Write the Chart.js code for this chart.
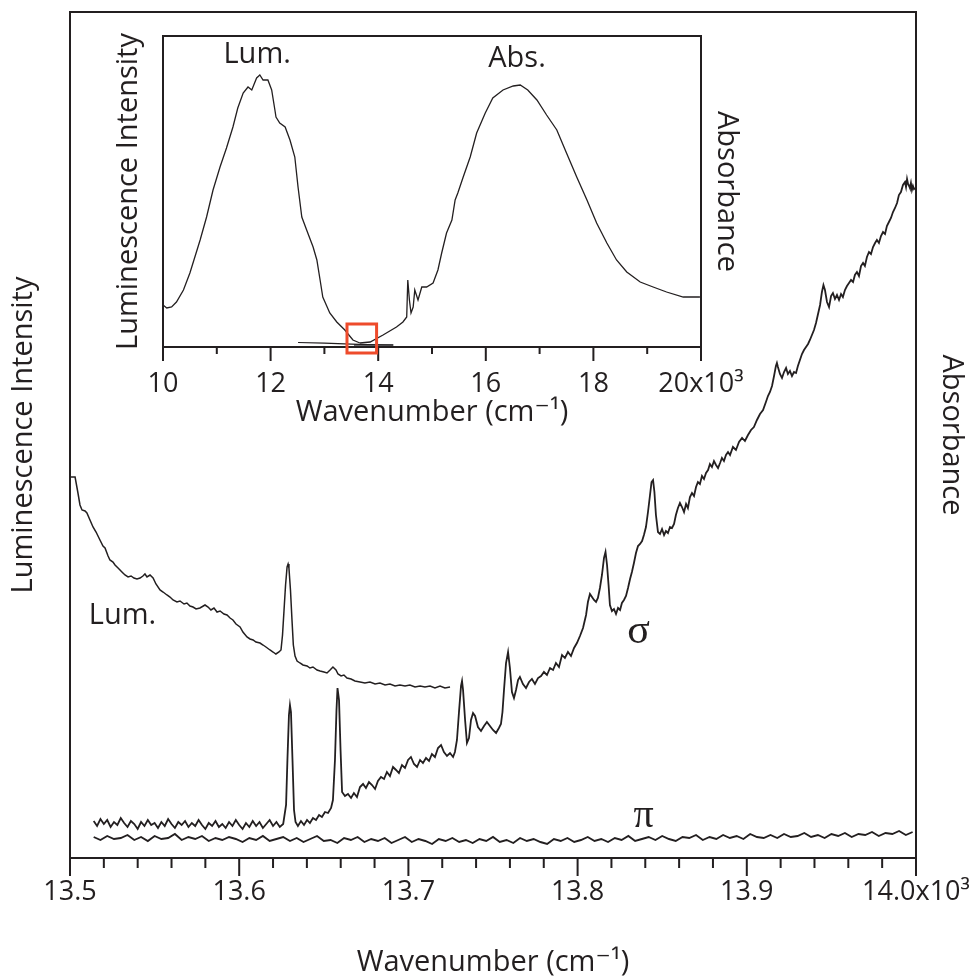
<!DOCTYPE html>
<html>
<head>
<meta charset="utf-8">
<title>Luminescence and absorbance spectra</title>
<script src="https://cdn.jsdelivr.net/npm/chart.js@4/dist/chart.umd.min.js"></script>
<style>
  html, body { margin: 0; padding: 0; background: #fff; }
  #wrap { position: relative; width: 969px; height: 980px; overflow: hidden; }
  #mainChart { position: absolute; left: 0; top: 0; }
  #insetChart { position: absolute; left: 100px; top: 0; }
</style>
</head>
<body>
<div id="wrap">
  <canvas id="mainChart" width="969" height="980"></canvas>
  <canvas id="insetChart" width="660" height="450"></canvas>
</div>
<script>
// ---- main panel: wavenumber (cm-1) vs. intensity (arbitrary units) ----
const mainMajorTicks = [13500, 13600, 13700, 13800, 13900, 14000];
const mainTickLabels = ['13.5', '13.6', '13.7', '13.8', '13.9', '14.0x10³'];

// luminescence trace
const lumTrace = [
  [13500.6,381],[13503.0,381],[13504.7,365],[13505.9,353],[13507.1,348],[13508.9,347],[13510.0,345],[13511.8,338],
  [13513.6,331],[13515.4,326],[13517.7,318],[13519.5,312],[13520.7,310],[13522.5,302],[13523.6,298],[13525.4,296],
  [13526.6,293],[13528.4,290],[13530.7,286],[13532.5,283],[13534.3,281],[13536.1,282],[13537.8,280],[13539.6,279],
  [13541.4,280],[13543.1,282],[13544.3,284],[13545.5,281],[13547.3,283],[13549.1,280],[13550.8,274],[13553.2,268],
  [13555.0,266],[13557.3,263],[13559.1,261],[13560.9,258],[13563.2,256],[13565.0,257],[13567.4,254],[13569.1,255],
  [13570.9,252],[13572.7,251],[13574.5,249],[13576.8,250],[13579.8,253],[13581.6,251],[13583.3,248],[13585.1,250],
  [13586.9,246],[13588.7,247],[13591.0,244],[13592.8,243],[13594.6,240],[13596.3,238],[13598.1,234],[13600.5,231],
  [13602.2,226],[13604.6,221],[13606.4,219],[13608.2,218],[13609.9,216],[13612.3,215],[13614.1,213],[13615.8,211],
  [13618.2,208],[13620.0,206],[13621.7,204],[13623.5,206],[13624.7,208],[13625.6,223],[13626.5,248],[13627.4,273],
  [13628.3,291],[13628.9,294],[13629.4,290],[13630.3,268],[13631.2,238],[13632.0,213],[13633.0,202],[13634.2,197],
  [13635.9,195],[13637.7,193],[13640.1,192],[13641.8,190],[13643.6,191],[13646.0,188],[13647.8,187],[13650.1,186],
  [13651.9,185],[13653.7,188],[13655.4,191],[13657.2,188],[13658.4,184],[13660.2,182],[13661.9,183],[13663.7,180],
  [13666.1,179],[13668.4,177],[13671.4,176],[13674.3,175],[13677.3,176],[13680.3,174],[13683.2,175],[13686.2,173],
  [13689.1,174],[13692.1,172],[13695.0,173],[13698.0,172],[13700.9,173],[13703.9,171],[13706.9,172],[13709.8,171],
  [13712.8,172],[13715.7,170],[13718.7,172],[13721.6,170],[13724.6,171]
];

// sigma-polarised absorbance
const sigmaTrace = [
  [13514,37],[13516,32],[13518,39],[13520,34],[13522,38],[13524,31],[13526,36],[13528,33],[13530,40],[13532,35],
  [13534,31],[13536,37],[13538,34],[13540,29],[13542,36],[13544,32],[13546,38],[13548,33],[13550,35],[13552,30],
  [13554,36],[13556,32],[13558,39],[13560,34],[13562,30],[13564,36],[13566,33],[13568,37],[13570,31],[13572,35],
  [13574,32],[13576,38],[13578,33],[13580,29],[13582,35],[13584,32],[13586,37],[13588,31],[13590,34],[13592,30],
  [13594,36],[13596,32],[13598,38],[13600,33],[13602,29],[13604,35],[13606,31],[13608,37],[13610,32],[13612,36],
  [13614,30],[13616,34],[13618,38],[13620,32],[13622,36],[13624,31],[13626,34],
  [13627.7,53],[13628.5,98],[13629.4,143],[13630.0,153],[13630.6,146],[13631.5,98],[13632.4,48],[13633.3,36],
  [13634.7,32],[13636.5,37],[13638.3,33],[13640.1,38],[13641.8,35],[13643.6,40],[13645.4,38],[13647.2,43],
  [13648.9,41],[13650.7,46],[13652.5,45],[13654.3,50],[13655.4,58],[13656.6,98],[13657.5,148],[13658.1,170],
  [13659.0,158],[13659.9,108],[13660.8,66],[13662.5,62],[13664.3,64],[13666.1,60],[13667.8,65],[13669.6,61],
  [13671.4,71],[13673.2,74],[13674.9,70],[13676.7,76],[13678.5,73],[13680.3,69],[13682.0,77],[13683.8,81],
  [13685.6,79],[13687.3,86],[13689.1,82],[13690.9,91],[13692.7,88],[13694.4,85],[13696.2,93],[13698.0,90],
  [13699.8,98],[13701.5,101],[13703.3,94],[13705.1,91],[13706.9,98],[13708.6,95],[13710.4,100],[13712.2,97],
  [13713.9,104],[13715.7,101],[13717.5,110],[13719.3,113],[13721.0,106],[13722.8,102],[13724.6,105],[13726.4,101],
  [13727.5,106],[13728.7,118],[13729.9,146],[13731.1,172],[13731.7,177],[13732.3,168],[13733.5,138],[13734.6,115],
  [13735.8,120],[13737.0,138],[13738.2,145],[13739.4,142],[13741.1,131],[13742.9,127],[13744.7,132],[13746.4,136],
  [13748.2,132],[13750.0,128],[13751.8,125],[13753.5,130],[13754.7,134],[13755.6,146],[13756.5,168],[13757.7,195],
  [13758.9,206],[13760.0,190],[13761.2,166],[13762.4,160],[13763.6,168],[13764.8,178],[13765.9,181],[13767.7,174],
  [13769.5,170],[13771.3,176],[13773.0,179],[13774.8,174],[13776.6,180],[13778.4,182],[13780.1,186],[13781.9,183],
  [13783.7,190],[13785.5,188],[13787.2,195],[13789.0,191],[13790.8,203],[13792.5,200],[13794.3,206],[13796.1,202],
  [13797.9,210],[13799.6,215],[13801.4,222],[13803.2,230],[13805.0,243],[13806.1,256],[13807.3,264],[13808.5,261],
  [13809.7,258],[13810.9,256],[13812.0,260],[13813.2,270],[13814.4,283],[13815.6,300],[13816.5,306],[13817.4,293],
  [13818.3,273],[13819.1,253],[13820.3,247],[13821.5,249],[13822.7,244],[13823.9,250],[13825.1,248],[13826.2,255],
  [13827.4,258],[13828.6,262],[13829.8,270],[13831.0,279],[13832.1,286],[13833.3,295],[13834.5,305],[13835.7,312],
  [13836.9,314],[13838.1,317],[13839.2,323],[13840.4,331],[13841.6,346],[13842.8,363],[13843.7,376],[13844.6,378],
  [13845.4,366],[13846.3,343],[13847.5,326],[13848.7,324],[13849.9,329],[13851.1,323],[13852.2,327],[13853.4,325],
  [13854.6,331],[13855.8,330],[13857.0,334],[13858.1,343],[13859.3,350],[13860.5,355],[13861.7,351],[13862.9,346],
  [13864.1,354],[13865.2,350],[13866.4,361],[13867.6,365],[13868.8,362],[13870.0,371],[13871.1,376],[13872.3,374],
  [13873.5,382],[13874.7,379],[13875.9,385],[13877.1,388],[13878.2,394],[13879.4,391],[13880.6,397],[13881.8,393],
  [13883.0,390],[13884.2,395],[13885.3,400],[13886.5,397],[13887.7,403],[13888.9,406],[13890.1,403],[13891.8,411],
  [13893.6,408],[13895.4,416],[13897.2,420],[13898.9,417],[13900.7,423],[13902.5,428],[13904.2,431],[13906.0,438],
  [13907.8,444],[13909.6,448],[13911.3,456],[13912.5,462],[13913.7,466],[13914.9,472],[13916.1,482],[13917.2,492],
  [13917.8,495],[13918.4,491],[13919.6,484],[13920.8,480],[13922.0,486],[13923.2,490],[13924.3,484],[13925.5,487],
  [13926.7,482],[13927.9,486],[13929.1,485],[13930.2,492],[13931.4,498],[13932.6,504],[13933.8,508],[13935.0,511],
  [13936.2,514],[13937.3,518],[13938.5,523],[13939.7,528],[13940.9,535],[13942.1,544],[13943.3,553],[13944.4,566],
  [13945.3,573],[13946.2,568],[13947.4,556],[13948.6,551],[13949.8,562],[13950.9,565],[13952.1,559],[13953.3,563],
  [13954.5,558],[13955.7,564],[13956.8,561],[13958.0,568],[13959.2,572],[13960.4,575],[13961.6,578],[13962.8,576],
  [13963.9,583],[13965.1,586],[13966.3,582],[13967.5,592],[13968.7,595],[13969.8,592],[13971.0,601],[13972.2,606],
  [13973.4,604],[13974.6,611],[13975.8,615],[13976.9,618],[13978.1,615],[13979.3,622],[13980.5,626],[13981.7,624],
  [13982.8,632],[13984.0,636],[13985.2,640],[13986.4,646],[13987.6,650],[13988.8,655],[13989.9,663],[13991.1,666],
  [13992.3,673],[13993.5,676],[13994.1,671],[13994.7,679],[13995.3,674],[13995.9,672],[13996.4,670],[13997.0,675],
  [13997.6,668],[13998.2,672],[13998.8,669],[13999.4,670]
];

// pi-polarised absorbance
const piTrace = [
  [13514,21],[13518,18],[13522,22],[13526,19],[13530,20],[13534,23],[13538,18],[13542,21],[13546,17],[13550,22],
  [13554,19],[13558,20],[13562,24],[13566,18],[13570,21],[13574,19],[13578,22],[13582,17],[13586,20],[13590,18],
  [13594,21],[13598,19],[13602,16],[13606,20],[13610,18],[13614,22],[13618,17],[13622,19],[13626,21],[13630,17],
  [13634,20],[13638,16],[13642,19],[13646,22],[13650,17],[13654,18],[13658,15],[13662,20],[13666,18],[13670,21],
  [13674,16],[13678,19],[13682,17],[13686,20],[13690,15],[13694,18],[13698,21],[13702,16],[13706,19],[13710,17],
  [13714,14],[13718,19],[13722,17],[13726,20],[13730,16],[13734,18],[13738,15],[13742,19],[13746,17],[13750,21],
  [13754,16],[13758,18],[13762,15],[13766,20],[13770,17],[13774,19],[13778,16],[13782,14],[13786,19],[13790,17],
  [13794,20],[13798,16],[13802,18],[13806,21],[13810,17],[13814,19],[13818,16],[13822,20],[13826,18],[13830,22],
  [13834,17],[13838,19],[13842,21],[13846,18],[13850,22],[13854,19],[13858,17],[13862,21],[13866,20],[13870,23],
  [13874,18],[13878,21],[13882,19],[13886,23],[13890,20],[13894,22],[13898,19],[13902,24],[13906,21],[13910,20],
  [13914,23],[13918,20],[13922,24],[13926,21],[13930,22],[13934,25],[13938,21],[13942,23],[13946,20],[13950,24],
  [13954,22],[13958,25],[13962,21],[13966,24],[13970,23],[13974,26],[13978,22],[13982,25],[13986,24],[13990,27],
  [13994,23],[13998,26]
];

// ---- inset: wavenumber (10^3 cm-1) vs. intensity (arbitrary units) ----
const insetMajorTicks = [10, 12, 14, 16, 18, 20];
const insetTickLabels = ['10', '12', '14', '16', '18', '20x10³'];

const insetLum = [
  [10.00,42],[10.07,39],[10.16,40],[10.25,45],[10.38,57],[10.50,74],[10.65,100],[10.69,107],[10.81,130],
  [10.93,157],[11.06,180],[11.18,199],[11.30,220],[11.39,239],[11.49,254],[11.58,260],[11.65,257],[11.74,269],
  [11.80,272],[11.86,267],[11.95,267],[12.02,257],[12.08,237],[12.10,230],[12.17,224],[12.27,220],[12.36,207],
  [12.45,190],[12.51,160],[12.58,130],[12.67,117],[12.79,100],[12.86,87],[12.92,67],[12.97,50],[13.10,34],
  [13.23,25],[13.38,17],[13.53,7],[13.66,4]
];

const insetAbs = [
  [13.66,4],[13.85,5],[14.09,12],[14.34,20],[14.46,25],[14.53,30],[14.55,67],[14.58,47],[14.61,34],[14.65,40],
  [14.68,57],[14.74,47],[14.81,60],[14.90,60],[15.02,64],[15.11,77],[15.18,94],[15.27,114],[15.37,127],[15.43,147],
  [15.48,154],[15.58,170],[15.71,190],[15.83,214],[15.99,234],[16.13,249],[16.32,257],[16.51,261],[16.64,262],
  [16.78,257],[16.95,247],[17.13,232],[17.32,217],[17.50,194],[17.69,170],[17.88,147],[18.06,124],[18.25,104],
  [18.43,87],[18.62,75],[18.87,65],[19.11,60],[19.36,55],[19.67,50],[19.98,50]
];

// the high-resolution spectra squeezed into the inset's scale
const insetDetail = [[12.51,4.5],[13.0,3.8],[13.5,2.8],[13.8,2.3],[14.28,2.0]];
const insetDetailBand = [[13.55,1.5],[14.28,1.5]];

const ink = '#231f20';
const sans = "'Open Sans', 'DejaVu Sans', sans-serif";
const serif = "'Liberation Serif', 'DejaVu Serif', serif";
Chart.defaults.font.family = sans;
Chart.defaults.color = ink;

const toPoints = arr => arr.map(p => ({ x: p[0], y: p[1] }));

const line = (data, width, color) => ({
    data: toPoints(data),
    showLine: true,
    borderColor: color || ink,
    borderWidth: width,
    pointRadius: 0,
    tension: 0,
    fill: false
});

// draws the frame, major/minor ticks, curve notes and the zoom box
const frameTicks = {
    id: 'frameTicks',
    afterDraw(chart, args, opts) {
        const { ctx, chartArea: a, scales } = chart;
        const xs = scales.x, ys = scales.y;
        ctx.save();
        ctx.strokeStyle = ink;
        ctx.lineWidth = opts.frameWidth;
        ctx.strokeRect(a.left, a.top, a.right - a.left, a.bottom - a.top);

        ctx.lineWidth = opts.tickWidth;
        ctx.beginPath();
        xs.ticks.forEach(t => {
            const px = xs.getPixelForValue(t.value);
            const r = t.value / opts.majorStep;
            const len = Math.abs(r - Math.round(r)) < 1e-6 ? opts.major : opts.minor;
            ctx.moveTo(px, a.bottom);
            ctx.lineTo(px, a.bottom + len);
        });
        ctx.stroke();

        if (opts.box) {
            const b = opts.box;
            const x0 = xs.getPixelForValue(b.x[0]), x1 = xs.getPixelForValue(b.x[1]);
            const y0 = ys.getPixelForValue(b.y[0]), y1 = ys.getPixelForValue(b.y[1]);
            ctx.strokeStyle = b.color;
            ctx.lineWidth = b.width;
            ctx.strokeRect(x0, y0, x1 - x0, y1 - y0);
        }

        ctx.fillStyle = ink;
        ctx.textAlign = 'center';
        ctx.textBaseline = 'middle';
        (opts.notes || []).forEach(n => {
            ctx.font = n.font;
            ctx.fillText(n.text, xs.getPixelForValue(n.x), ys.getPixelForValue(n.y));
        });
        ctx.restore();
    }
};

const hiddenY = (position, text, width, pad) => ({
    position: position,
    min: 0,
    max: position === 'left' ? undefined : 1,
    ticks: { display: false },
    grid: { display: false, drawTicks: false },
    border: { display: false },
    title: { display: true, text: text, font: { size: 29 }, padding: { top: pad, bottom: 0 } },
    afterFit: s => { s.width = width; }
});

// fixed axis band; overflowing end labels are allowed to run off the canvas
const fixedX = height => s => {
    s.height = height;
    s.paddingLeft = 0;
    s.paddingRight = 0;
};

// Main chart
const mainY = hiddenY('left', 'Luminescence Intensity', 70, 6);
mainY.max = 846;
new Chart(document.getElementById('mainChart'), {
    type: 'scatter',
    data: {
        datasets: [
            line(lumTrace, 1.5),
            line(sigmaTrace, 1.8),
            line(piTrace, 1.9)
        ]
    },
    options: {
        responsive: false,
        animation: false,
        layout: { padding: { top: 12, left: 0, right: 0, bottom: 0 }, autoPadding: false },
        scales: {
            x: {
                type: 'linear',
                position: 'bottom',
                min: 13500,
                max: 14000,
                ticks: {
                    stepSize: 20,
                    autoSkip: false,
                    maxRotation: 0,
                    padding: 0,
                    font: { size: 27 },
                    callback: v => {
                        const i = mainMajorTicks.indexOf(Math.round(v));
                        return i >= 0 ? mainTickLabels[i] : '';
                    }
                },
                grid: { display: false, drawTicks: true, tickLength: 18 },
                border: { display: false },
                title: { display: true, text: 'Wavenumber (cm⁻¹)', font: { size: 29 }, padding: { top: 0, bottom: 0 } },
                afterFit: fixedX(122)
            },
            y: mainY,
            y2: hiddenY('right', 'Absorbance', 53, 0)
        },
        plugins: {
            legend: { display: false },
            tooltip: { enabled: false },
            frameTicks: {
                frameWidth: 2,
                tickWidth: 2,
                majorStep: 100,
                major: 18,
                minor: 10,
                notes: [
                    { text: 'Lum.', x: 13531, y: 242, font: '29px ' + sans },
                    { text: 'σ', x: 13836, y: 226, font: '42px ' + serif },
                    { text: 'π', x: 13839, y: 42, font: '40px ' + serif }
                ]
            }
        }
    },
    plugins: [frameTicks]
});

// Inset chart
const insetY = hiddenY('left', 'Luminescence Intensity', 63, 11);
insetY.max = 311;
new Chart(document.getElementById('insetChart'), {
    type: 'scatter',
    data: {
        datasets: [
            line(insetLum, 1.3),
            line(insetAbs, 1.3),
            line(insetDetail, 1.2),
            line(insetDetailBand, 3, '#6d6e71')
        ]
    },
    options: {
        responsive: false,
        animation: false,
        layout: { padding: { top: 36, left: 0, right: 0, bottom: 0 }, autoPadding: false },
        scales: {
            x: {
                type: 'linear',
                position: 'bottom',
                min: 10,
                max: 20,
                ticks: {
                    stepSize: 1,
                    autoSkip: false,
                    maxRotation: 0,
                    padding: 13,
                    font: { size: 27 },
                    callback: v => {
                        const i = insetMajorTicks.indexOf(Math.round(v));
                        return i >= 0 ? insetTickLabels[i] : '';
                    }
                },
                grid: { display: false, drawTicks: true, tickLength: 8 },
                border: { display: false },
                title: { display: true, text: 'Wavenumber (cm⁻¹)', font: { size: 29 }, padding: { top: 0, bottom: 20 } },
                afterFit: fixedX(103)
            },
            y: insetY,
            y2: hiddenY('right', 'Absorbance', 59, 16)
        },
        plugins: {
            legend: { display: false },
            tooltip: { enabled: false },
            frameTicks: {
                frameWidth: 2,
                tickWidth: 2,
                majorStep: 2,
                major: 14,
                minor: 7,
                box: { x: [13.42, 13.97], y: [23, -6], color: '#ee4b2b', width: 3 },
                notes: [
                    { text: 'Lum.', x: 11.75, y: 292, font: '29px ' + sans },
                    { text: 'Abs.', x: 16.58, y: 288, font: '29px ' + sans }
                ]
            }
        }
    },
    plugins: [frameTicks]
});
</script>
</body>
</html>
